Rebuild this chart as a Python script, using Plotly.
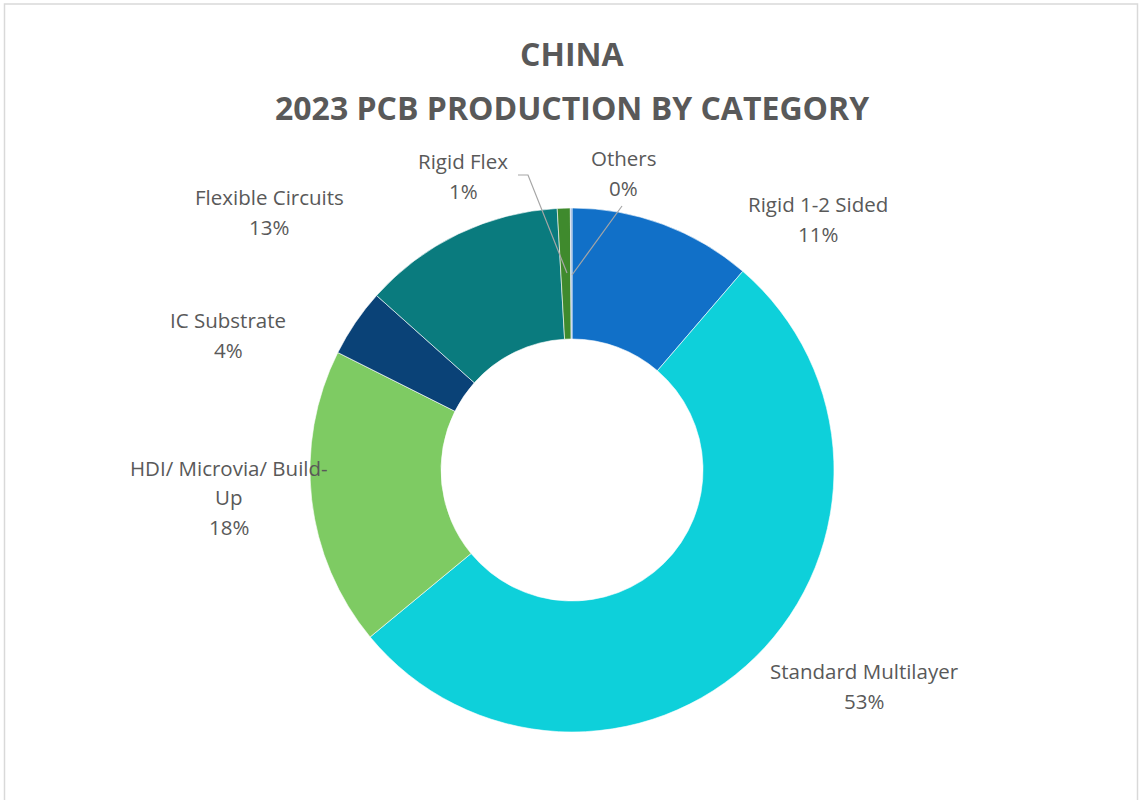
import plotly.graph_objects as go

# ---- data ----
categories = ["Rigid 1-2 Sided", "Standard Multilayer", "HDI/ Microvia/ Build-Up",
              "IC Substrate", "Flexible Circuits", "Rigid Flex", "Others"]
shares = [11.3, 52.7, 18.4, 4.2, 12.5, 0.8, 0.1]
pct_labels = ["11%", "53%", "18%", "4%", "13%", "1%", "0%"]
label_lines = [["Rigid 1-2 Sided"], ["Standard Multilayer"], ["HDI/ Microvia/ Build-", "Up"],
               ["IC Substrate"], ["Flexible Circuits"], ["Rigid Flex"], ["Others"]]
title_lines = ["CHINA", "2023 PCB PRODUCTION BY CATEGORY"]

# ---- styles / layout positions (pixels) ----
colors = ["#1170C8", "#0ED0DA", "#7ECB63", "#0A4277", "#0A7B7E", "#3F8A2D", "#8FAADC"]
W, H = 1140, 800
cx, cy, R = 572, 470, 262
label_pos = [(818, 204), (864, 671), (229, 468), (228, 320), (269, 197), (463, 161), (623, 158)]
line_gap = 29.5
text_color = "#595959"
font = "Open Sans"

def px(x):
    return x / W

def py(y):
    return 1 - y / H

fig = go.Figure(go.Pie(
    labels=categories, values=shares, sort=False, direction="clockwise", rotation=0,
    hole=0.5, textinfo="none", hoverinfo="label+percent",
    marker=dict(colors=colors, line=dict(color="white", width=0.6)),
    domain=dict(x=[px(cx - R), px(cx + R)], y=[py(cy + R), py(cy - R)]),
    showlegend=False,
))

annotations = []
for lines, pct, (x, y) in zip(label_lines, pct_labels, label_pos):
    all_lines = lines + [pct]
    for i, t in enumerate(all_lines):
        annotations.append(dict(
            text=t, x=px(x), y=py(y + i * line_gap), xref="paper", yref="paper",
            showarrow=False, xanchor="center", yanchor="middle",
            font=dict(family=font, size=20.5, color=text_color)))

for i, t in enumerate(title_lines):
    annotations.append(dict(
        text="<b>%s</b>" % t, x=px(cx), y=py(53 + i * 54), xref="paper", yref="paper",
        showarrow=False, xanchor="center", yanchor="middle",
        font=dict(family=font, size=32, color=text_color)))

shapes = [
    dict(type="rect", xref="paper", yref="paper", x0=px(4.5), x1=px(1137.5), y0=py(820), y1=py(4),
         line=dict(color="#D9D9D9", width=1.5), fillcolor="rgba(0,0,0,0)", layer="below"),
    # leader lines
    dict(type="path", xref="paper", yref="paper",
         path="M %f,%f L %f,%f L %f,%f" % (px(518), py(175), px(528), py(175), px(567), py(273)),
         line=dict(color="#A6A6A6", width=1.2)),
    dict(type="line", xref="paper", yref="paper", x0=px(622), y0=py(206), x1=px(572), y1=py(275),
         line=dict(color="#A6A6A6", width=1.2)),
]

fig.update_layout(
    width=W, height=H, margin=dict(l=0, r=0, t=0, b=0),
    paper_bgcolor="white", plot_bgcolor="white",
    annotations=annotations, shapes=shapes,
)

fig.write_html("out.html", config={"displayModeBar": False},
               post_script="document.body.style.margin='0';document.body.style.overflow='hidden';")
